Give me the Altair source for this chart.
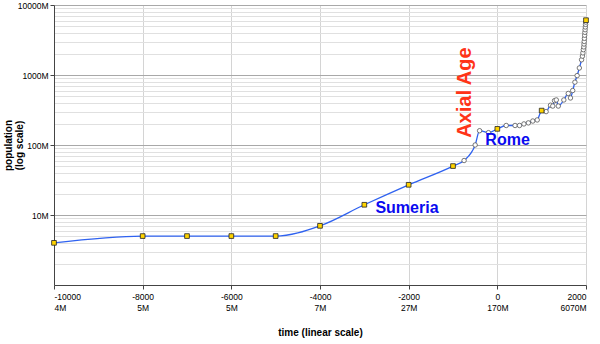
import altair as alt
import pandas as pd

# ---- data (population in millions) ----
major_years = [-10000, -8000, -7000, -6000, -5000, -4000, -3000, -2000, -1000, 0, 1000, 2000]
major_pops = [4, 5, 5, 5, 5, 7, 14, 27, 50, 170, 310, 6070]

minor_years = [-750, -500, -400, -200, 200, 400, 500, 600, 700, 800, 900, 1100,
               1200, 1250, 1290, 1330, 1375, 1500, 1600, 1650, 1700, 1750, 1800,
               1850, 1900, 1920, 1930, 1940, 1950, 1955, 1960, 1965, 1970, 1975,
               1980, 1985, 1990, 1995]
minor_pops = [60, 100, 160, 150, 190, 190, 190, 200, 207, 220, 228, 300,
              370, 360, 430, 440, 360, 440, 545, 470, 600, 790, 980,
              1260, 1650, 1860, 2070, 2300, 2520, 2770, 3020, 3340, 3700, 4070,
              4440, 4850, 5280, 5700]

tick_years = [-10000, -8000, -6000, -4000, -2000, 0, 2000]
tick_pop_labels = ["4M", "5M", "5M", "7M", "27M", "170M", "6070M"]

y_major = [10, 100, 1000, 10000]
y_ticks = [k * 10 ** d for d in range(4) for k in range(1, 10)] + [10000]

ann_text = ["Sumeria", "Rome", "Axial Age"]
ann_year = [-2750, -270, -722]
ann_pop = [12.6, 118, 560]

# ---- frames ----
pts = pd.DataFrame({
    "year": major_years + minor_years,
    "pop": major_pops + minor_pops,
    "kind": ["major"] * len(major_years) + ["minor"] * len(minor_years),
}).sort_values("year")

ann = pd.DataFrame({"year": ann_year, "pop": ann_pop, "text": ann_text})

FONT = "Liberation Sans, Arial"
TFONT = "Liberation Sans, Arial"

xlabel_expr = "[''+datum.value, {labs}[indexof({yrs}, datum.value)]]".format(
    labs="[" + ",".join("'%s'" % s for s in tick_pop_labels) + "]",
    yrs="[" + ",".join(str(v) for v in tick_years) + "]",
)
major_test = "indexof([" + ",".join(str(v) for v in y_major) + "], datum.value) >= 0"

x = alt.X("year:Q",
          scale=alt.Scale(domain=[-10000, 2000], nice=False, zero=False),
          axis=alt.Axis(values=tick_years, labelExpr=xlabel_expr,
                        title="time (linear scale)", titleFont=TFONT,
                        titleFontSize=10, titleFontWeight="bold", titleColor="#000",
                        titlePadding=16,
                        labelFont=FONT, labelFontSize=8.5, labelColor="#000",
                        labelLineHeight=11, labelPadding=3,
                        gridColor="#d4d4d4", gridWidth=1,
                        domainColor="#444", tickColor="#444", tickSize=4))

y = alt.Y("pop:Q",
          scale=alt.Scale(type="log", domain=[1, 10000], nice=False),
          axis=alt.Axis(values=y_ticks,
                        labelExpr="(" + major_test + ") ? datum.value + 'M' : ''",
                        title=["population", "(log scale)"], titleFont=TFONT,
                        titleFontSize=10, titleFontWeight="bold", titleColor="#000",
                        titleX=-51, titleY=140, titleAngle=270,
                        titleAlign="center", titleBaseline="top",
                        titleLineHeight=11,
                        labelFont=FONT, labelFontSize=8.5, labelColor="#000",
                        labelPadding=2,
                        gridColor={"condition": {"test": major_test, "value": "#a8a8a8"},
                                   "value": "#e0e0e0"},
                        tickColor={"condition": {"test": major_test, "value": "#444"},
                                   "value": "transparent"},
                        domainColor="#444", tickSize=4))

base = alt.Chart(pts)

line = base.mark_line(color="#2f62f0", strokeWidth=1.3, interpolate="monotone").encode(x=x, y=y)

circles = base.transform_filter("datum.kind == 'minor'").mark_point(
    shape="circle", filled=True, fill="white", stroke="#555", strokeWidth=0.8, size=20, opacity=1
).encode(x="year:Q", y="pop:Q")

squares = base.transform_filter("datum.kind == 'major'").mark_point(
    shape="square", filled=True, fill="#ffd400", stroke="#222", strokeWidth=0.8, size=22, opacity=1
).encode(x="year:Q", y="pop:Q")

ann_base = alt.Chart(ann)
sumeria_rome = ann_base.transform_filter("datum.text != 'Axial Age'").mark_text(
    align="left", baseline="middle", font=TFONT, fontSize=16, fontWeight="bold", color="#0a0af0"
).encode(x="year:Q", y="pop:Q", text="text:N")

axial = ann_base.transform_filter("datum.text == 'Axial Age'").mark_text(
    align="center", baseline="middle", angle=270, font=TFONT, fontSize=20,
    fontWeight="bold", color="#ff3418"
).encode(x="year:Q", y="pop:Q", text="text:N")

chart = alt.layer(line, circles, squares, sumeria_rome, axial).properties(
    width=532, height=280,
    autosize=alt.AutoSizeParams(type="none"),
    padding={"left": 54, "top": 5, "right": 14, "bottom": 59},
    background="white",
).configure_view(stroke=None)

chart.save("out.html", embed_options={"renderer": "svg", "actions": False})
